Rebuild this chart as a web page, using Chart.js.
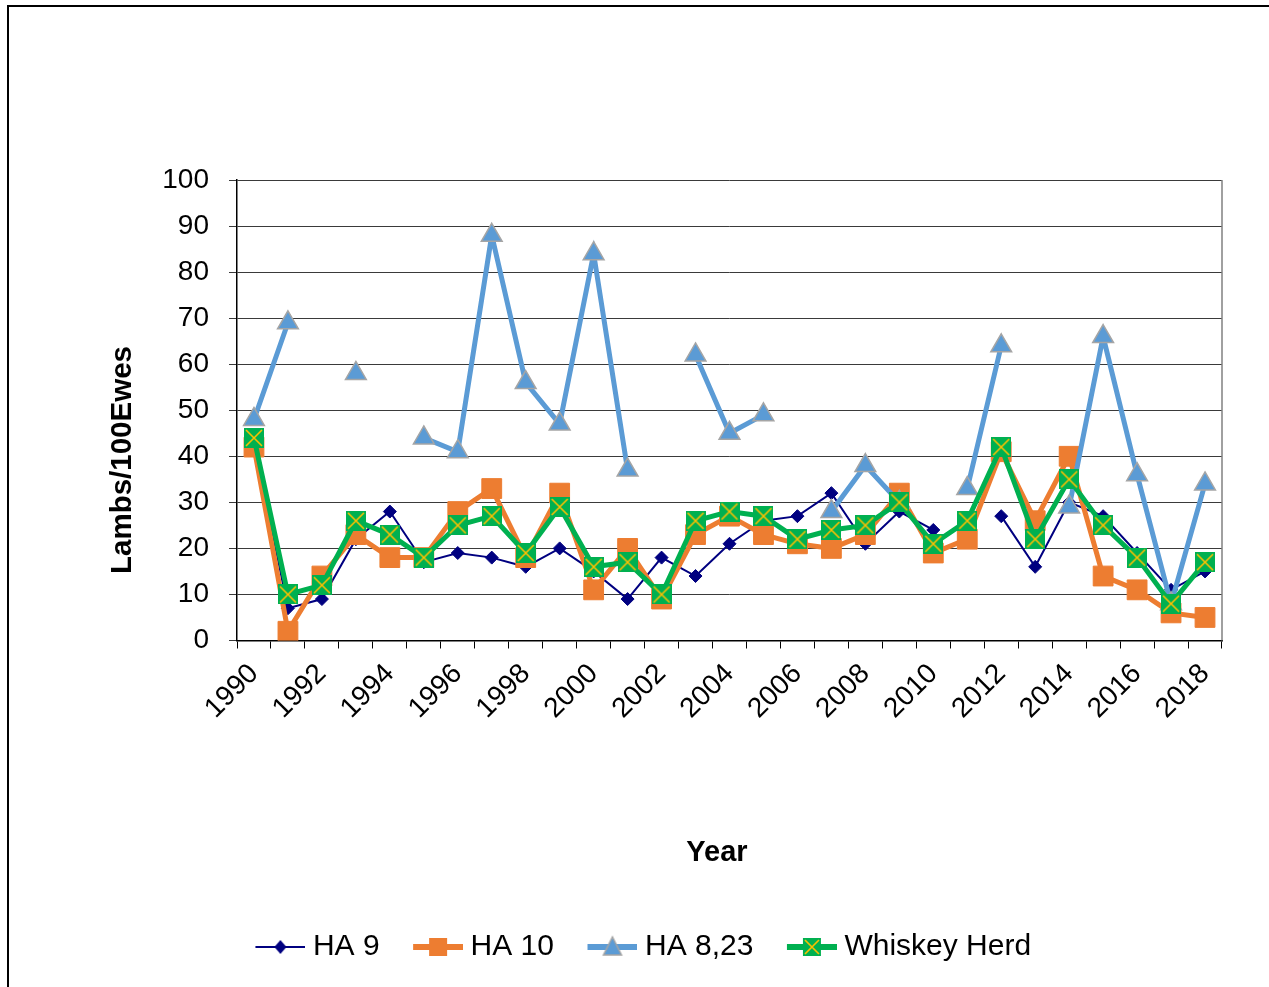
<!DOCTYPE html>
<html>
<head>
<meta charset="utf-8">
<script src="https://cdn.jsdelivr.net/npm/chart.js@4.4.0/dist/chart.umd.min.js"></script>
<style>
html, body { margin: 0; padding: 0; background: #fff; }
#wrap { position: relative; width: 1269px; height: 987px; overflow: hidden; }
#frame { position: absolute; left: 7px; top: 5px; width: 1300px; height: 1000px; border-left: 2px solid #000; border-top: 2px solid #000; }
#chart { position: absolute; left: 0; top: 0; }
</style>
</head>
<body>
<div id="wrap">
  <div id="frame"></div>
  <canvas id="chart" width="1269" height="987"></canvas>
</div>
<script>
// categories
const years = ['1990','1991','1992','1993','1994','1995','1996','1997','1998','1999',
  '2000','2001','2002','2003','2004','2005','2006','2007','2008','2009',
  '2010','2011','2012','2013','2014','2015','2016','2017','2018'];
// only every other year gets a label
const tickYears = ['1990','1992','1994','1996','1998','2000','2002','2004','2006','2008',
  '2010','2012','2014','2016','2018'];

// lambs per 100 ewes
const ha9     = [43, 7, 9, 22, 28, 17, 19, 18, 16, 20, 15, 9, 18, 14, 21, 26, 27, 32, 21, 28, 24, null, 27, 16, 30, 27, 19, 11, 15];
const ha10    = [42, 2, 14, 23, 18, 18, 28, 33, 18, 32, 11, 20, 9, 23, 27, 23, 21, 20, 23, 32, 19, 22, 41, 26, 40, 14, 11, 6, 5];
const ha823   = [48, 69, null, 58, null, 44, 41, 88, 56, 47, 84, 37, null, 62, 45, 49, null, 28, 38, 30, null, 33, 64, null, 29, 66, 36, 8, 34];
const whiskey = [44, 10, 12, 26, 23, 18, 25, 27, 19, 29, 16, 17, 10, 26, 28, 27, 22, 24, 25, 30, 21, 26, 42, 22, 35, 25, 18, 8, 17];

const yTicks = [0, 10, 20, 30, 40, 50, 60, 70, 80, 90, 100];

const NAVY = '#000080', ORANGE = '#ED7D31', BLUE = '#5B9BD5', GREEN = '#00B050', GOLD = '#FFC000';
const FONT = '"Liberation Sans", Arial, sans-serif';

Chart.defaults.font.family = FONT;
Chart.defaults.color = '#000';

// green square with yellow cross
function whiskeyMark(size) {
  const c = document.createElement('canvas');
  c.width = size; c.height = size;
  const g = c.getContext('2d');
  g.fillStyle = GREEN;
  g.fillRect(0, 0, size, size);
  g.strokeStyle = GOLD;
  g.lineWidth = 1.6;
  g.beginPath();
  g.moveTo(2, 2); g.lineTo(size - 2, size - 2);
  g.moveTo(size - 2, 2); g.lineTo(2, size - 2);
  g.stroke();
  return c;
}

// legend icon: line with the marker in the middle
function legendIcon(kind) {
  const c = document.createElement('canvas');
  c.width = 81; c.height = 24;
  const g = c.getContext('2d');
  const x0 = 31, x1 = 81, cy = 12, cx = 56;
  const col = {ha9: NAVY, ha10: ORANGE, ha823: BLUE, wh: GREEN}[kind];
  g.strokeStyle = col;
  g.lineWidth = kind === 'ha9' ? 2 : 6;
  g.beginPath(); g.moveTo(x0, cy); g.lineTo(x1, cy); g.stroke();
  g.fillStyle = col;
  if (kind === 'ha9') {
    g.beginPath();
    g.moveTo(cx, cy - 7); g.lineTo(cx + 6, cy); g.lineTo(cx, cy + 7); g.lineTo(cx - 6, cy);
    g.closePath(); g.fill();
  } else if (kind === 'ha10') {
    g.fillRect(cx - 9, cy - 9, 18, 18);
  } else if (kind === 'ha823') {
    g.beginPath();
    g.moveTo(cx, cy - 10); g.lineTo(cx + 9, cy + 8); g.lineTo(cx - 9, cy + 8);
    g.closePath(); g.fill();
    g.strokeStyle = '#A5A5A5'; g.lineWidth = 1.5; g.stroke();
  } else {
    g.drawImage(whiskeyMark(18), cx - 9, cy - 9);
  }
  return c;
}
const legendIcons = [legendIcon('wh'), legendIcon('ha823'), legendIcon('ha10'), legendIcon('ha9')];

// right edge of plot + axis titles placed like the original
const plotFrame = {
  id: 'plotFrame',
  beforeDatasetsDraw(chart) {
    const a = chart.chartArea, c = chart.ctx;
    c.save();
    c.strokeStyle = '#808080';
    c.lineWidth = 1.5;
    c.beginPath();
    c.moveTo(a.right, a.top); c.lineTo(a.right, a.bottom);
    c.stroke();
    c.restore();
  },
  afterDraw(chart) {
    const c = chart.ctx;
    c.save();
    c.fillStyle = '#000';
    c.textAlign = 'center';
    c.textBaseline = 'middle';
    c.font = 'bold 29px ' + FONT;
    c.fillText('Year', 717, 853);
    c.translate(123, 460);
    c.rotate(-Math.PI / 2);
    c.font = 'bold 29.5px ' + FONT;
    c.fillText('Lambs/100Ewes', 0, 0);
    c.restore();
  }
};

const chart = new Chart(document.getElementById('chart'), {
  type: 'line',
  data: {
    labels: years,
    datasets: [
      {
        label: 'Whiskey Herd', data: whiskey,
        borderColor: GREEN, borderWidth: 5,
        pointStyle: whiskeyMark(20), pointRadius: 10, pointHoverRadius: 10
      },
      {
        label: 'HA 8,23', data: ha823,
        borderColor: BLUE, borderWidth: 5,
        pointStyle: 'triangle', pointRadius: 12, pointHoverRadius: 12,
        pointBackgroundColor: BLUE, pointBorderColor: '#A5A5A5', pointBorderWidth: 1.5
      },
      {
        label: 'HA 10', data: ha10,
        borderColor: ORANGE, borderWidth: 5,
        pointStyle: 'rect', pointRadius: 14, pointHoverRadius: 14,
        pointBackgroundColor: ORANGE, pointBorderColor: ORANGE, pointBorderWidth: 1
      },
      {
        label: 'HA 9', data: ha9,
        borderColor: NAVY, borderWidth: 2,
        pointStyle: 'rectRot', pointRadius: 6.5, pointHoverRadius: 6.5,
        pointBackgroundColor: NAVY, pointBorderColor: NAVY, pointBorderWidth: 1
      }
    ]
  },
  options: {
    responsive: false,
    animation: false,
    tension: 0,
    layout: { padding: { left: 41, top: 180, right: 47, bottom: 15 } },
    plugins: {
      tooltip: { enabled: false },
      legend: {
        position: 'bottom',
        reverse: true,
        labels: {
          usePointStyle: true,
          pointStyleWidth: 66,
          padding: 10,
          color: '#000',
          font: { size: 30 },
          generateLabels(ch) {
            const items = Chart.defaults.plugins.legend.labels.generateLabels(ch);
            items.forEach(it => { it.pointStyle = legendIcons[it.datasetIndex]; });
            return items;
          }
        }
      }
    },
    scales: {
      x: {
        offset: true,
        grid: { offset: true, drawOnChartArea: false, tickLength: 8, color: '#000' },
        border: { color: '#000', width: 1.5 },
        ticks: {
          autoSkip: false, maxRotation: 45, minRotation: 45,
          padding: 9, color: '#000', font: { size: 28 },
          callback(v) {
            const lab = this.getLabelForValue(v);
            return tickYears.includes(lab) ? lab : '';
          }
        },
        afterFit(s) { s.height = 281.5; }
      },
      y: {
        min: 0, max: 100,
        afterBuildTicks(s) { s.ticks = yTicks.map(v => ({ value: v })); },
        grid: { color: '#3a3a3a', tickLength: 8 },
        border: { color: '#000', width: 1.5 },
        ticks: { padding: 20, color: '#000', font: { size: 28 } },
        afterFit(s) { s.width = 196; }
      }
    }
  },
  plugins: [plotFrame]
});
</script>
</body>
</html>
